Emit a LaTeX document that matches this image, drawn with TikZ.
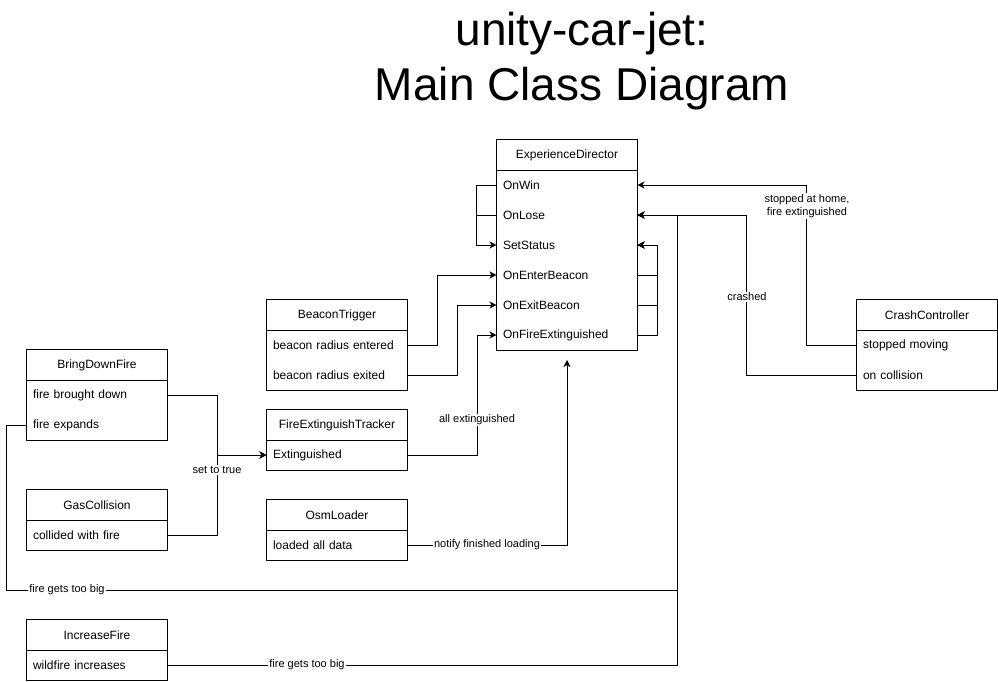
\documentclass[tikz,border=0pt]{standalone}
\usepackage{fontspec}
\setmainfont{Liberation Sans}
\usetikzlibrary{arrows.meta}
\begin{document}
\begin{tikzpicture}[x=1pt,y=-1pt,line width=1pt,
  hdr/.style={minimum width=140pt,minimum height=30pt,inner sep=0pt,font=\fontsize{12}{14}\selectfont},
  rowc/.style={minimum width=140pt,minimum height=30pt,inner xsep=6pt,inner ysep=0pt,text width=128pt,align=left,font=\fontsize{12}{14}\selectfont},
  arr/.style={-{Stealth[length=7pt,width=7pt,inset=2pt]}},
  lbl/.style={fill=white,inner sep=1pt,font=\fontsize{11}{13}\selectfont},
  ttl/.style={anchor=base,inner sep=0pt,font=\fontsize{46}{55}\selectfont}]
\useasboundingbox (0,0) rectangle (998,681);

% title
\node[ttl] (t1) at (582,45) {unity-car-jet:};
\node[ttl] (t2) at (582,100) {Main Class Diagram};

% ExperienceDirector
\node[hdr] (ed) at (567,155) {ExperienceDirector};
\node[rowc] (ed1) at (567,185) {OnWin};
\node[rowc] (ed2) at (567,215) {OnLose};
\node[rowc] (ed3) at (567,245) {SetStatus};
\node[rowc] (ed4) at (567,275) {OnEnterBeacon};
\node[rowc] (ed5) at (567,305) {OnExitBeacon};
\node[rowc] (ed6) at (567,335) {OnFireExtinguished};
\draw (ed.north west) rectangle (ed6.south east);
\draw (ed.south west) -- (ed.south east);
\coordinate (edb) at (567,360);

% BeaconTrigger
\node[hdr] (bt) at (337,315) {BeaconTrigger};
\node[rowc] (bt1) at (337,345) {beacon radius entered};
\node[rowc] (bt2) at (337,375) {beacon radius exited};
\draw (bt.north west) rectangle (bt2.south east);
\draw (bt.south west) -- (bt.south east);

% FireExtinguishTracker
\node[hdr] (fet) at (337,425) {FireExtinguishTracker};
\node[rowc] (fet1) at (337,455) {Extinguished};
\draw (fet.north west) rectangle (fet1.south east);
\draw (fet.south west) -- (fet.south east);

% OsmLoader
\node[hdr] (osm) at (337,515) {OsmLoader};
\node[rowc] (osm1) at (337,545) {loaded all data};
\draw (osm.north west) rectangle (osm1.south east);
\draw (osm.south west) -- (osm.south east);

% BringDownFire
\node[hdr] (bdf) at (97,365) {BringDownFire};
\node[rowc] (bdf1) at (97,395) {fire brought down};
\node[rowc] (bdf2) at (97,425) {fire expands};
\draw (bdf.north west) rectangle (bdf2.south east);
\draw (bdf.south west) -- (bdf.south east);

% GasCollision
\node[hdr] (gc) at (97,505) {GasCollision};
\node[rowc] (gc1) at (97,535) {collided with fire};
\draw (gc.north west) rectangle (gc1.south east);
\draw (gc.south west) -- (gc.south east);

% IncreaseFire
\node[hdr] (inf) at (97,635) {IncreaseFire};
\node[rowc] (inf1) at (97,665) {wildfire increases};
\draw (inf.north west) rectangle (inf1.south east);
\draw (inf.south west) -- (inf.south east);

% CrashController
\node[hdr] (cc) at (927,315) {CrashController};
\node[rowc] (cc1) at (927,345) {stopped moving};
\node[rowc] (cc2) at (927,375) {on collision};
\draw (cc.north west) rectangle (cc2.south east);
\draw (cc.south west) -- (cc.south east);

% self connectors of ExperienceDirector
\draw[arr] (ed1.west) -- ++(-20,0) |- (ed3.west);
\draw (ed2.west) -- ++(-20,0);
\draw[arr] (ed4.east) -- ++(20,0) |- (ed3.east);
\draw[arr] (ed5.east) -- ++(20,0) |- (ed3.east);
\draw[arr] (ed6.east) -- ++(20,0) |- (ed3.east);

% BeaconTrigger
\draw[arr] (bt1.east) -- ++(30,0) |- (ed4.west);
\draw[arr] (bt2.east) -- ++(50,0) |- (ed5.west);

% FireExtinguishTracker
\draw[arr] (fet1.east) -- ++(70,0) |- (ed6.west);
\node[lbl] (l1) at (477,420) {all extinguished};

% OsmLoader
\draw[arr] (osm1.east) -| (edb);
\node[lbl] (l2) at (487,545) {notify finished loading};

% BringDownFire / GasCollision
\draw[arr] (bdf1.east) -- ++(50,0) |- (fet1.west);
\draw[arr] (gc1.east) -- ++(50,0) |- (fet1.west);
\node[lbl] (l3) at (217,470) {set to true};

% fire expands
\draw[arr] (bdf2.west) -- ++(-20,0) |- (677,590) |- (ed2.east);
\node[lbl] (l4) at (67,590) {fire gets too big};

% IncreaseFire
\draw[arr] (inf1.east) -- (677,665) |- (ed2.east);
\node[lbl] (l5) at (307,665) {fire gets too big};

% CrashController
\draw[arr] (cc1.west) -- ++(-50,0) |- (ed1.east);
\node[lbl,align=center] (l6) at (807,206) {stopped at home,\\fire extinguished};
\draw[arr] (cc2.west) -- ++(-110,0) |- (ed2.east);
\node[lbl] (l7) at (747,297) {crashed};
\end{tikzpicture}
\end{document}
